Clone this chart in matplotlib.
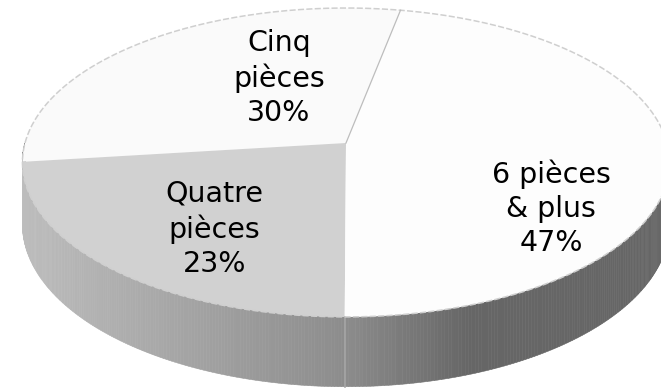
import numpy as np
import matplotlib.pyplot as plt
from matplotlib.patches import Polygon

# donnees
labels = ["Cinq\npièces", "Quatre\npièces", "6 pièces\n& plus"]
parts = [30, 23, 47]
top_col = ["#fafafa", "#d1d1d1", "#fdfdfd"]
# position des etiquettes (fraction de la figure)
lab_pos = [(0.422, 0.80), (0.324, 0.415), (0.834, 0.468)]

# geometrie du "3D" (pixels)
cx, cy = 346, 143
A, B, k = 321, 152, 0.126
h = 61
start = 79.0

def proj(t, z=0.0):
    u, v = np.cos(t), np.sin(t)
    w = 1 + k * v
    return cx + A * u / w, cy - B * v / w + z * h / w

def gris(g):
    return (g, g, g)

fig = plt.figure(figsize=(6.61, 3.91), dpi=100)
ax = fig.add_axes([0, 0, 1, 1])
ax.set_xlim(0, 661)
ax.set_ylim(391, 0)
ax.axis("off")

bornes = start + 360 * np.cumsum([0] + parts) / 100.0

# cote (bande de face)
for i in range(len(parts)):
    a0, a1 = np.radians(bornes[i]), np.radians(bornes[i + 1])
    lo, hi = max(a0, np.pi), min(a1, 2 * np.pi)
    lo2, hi2 = max(a0, 3 * np.pi), min(a1, 4 * np.pi)
    for lo_, hi_ in [(lo, hi), (lo2, hi2)]:
        if hi_ <= lo_:
            continue
        ts = np.linspace(lo_, hi_, 160)
        for t0, t1 in zip(ts[:-1], ts[1:]):
            x0, y0 = proj(t0)
            x1, y1 = proj(t1)
            xb1, yb1 = proj(t1, 1)
            xb0, yb0 = proj(t0, 1)
            xm = (x0 + x1) / 2
            if i == 1:
                g = np.interp(xm, [22, 346], [0.74, 0.55])
            else:
                g = np.interp(xm, [346, 470], [0.55, 0.40])
            ax.add_patch(Polygon([(x0, y0), (x1, y1), (xb1, yb1), (xb0, yb0)],
                                 closed=True, fc=gris(g), ec=gris(g), lw=0.4))

# separation sur le cote
xs, ys = proj(np.radians(bornes[2]))
xe, ye = proj(np.radians(bornes[2]), 1)
ax.plot([xs, xe], [ys, ye], color="#a6a6a6", lw=1.2)

# dessus
for i in range(len(parts)):
    ts = np.radians(np.linspace(bornes[i], bornes[i + 1], 200))
    px, py = proj(ts)
    pts = [(cx, cy)] + list(zip(px, py))
    ax.add_patch(Polygon(pts, closed=True, fc=top_col[i], ec="none"))

ts = np.linspace(0, 2 * np.pi, 400)
px, py = proj(ts)
ax.plot(px, py, color="#cfcfcf", lw=1.1, ls=(0, (4, 1.5)))
xt, yt = proj(np.radians(bornes[0]))
ax.plot([cx, xt], [cy, yt], color="#bdbdbd", lw=0.9)

for i in range(len(parts)):
    ax.text(lab_pos[i][0], lab_pos[i][1], "%s\n%d%%" % (labels[i], parts[i]),
            transform=fig.transFigure, ha="center", va="center",
            fontsize=20.5, family="DejaVu Sans", color="#000000", linespacing=1.28)

fig.savefig("out.png", dpi=100, facecolor="white")
